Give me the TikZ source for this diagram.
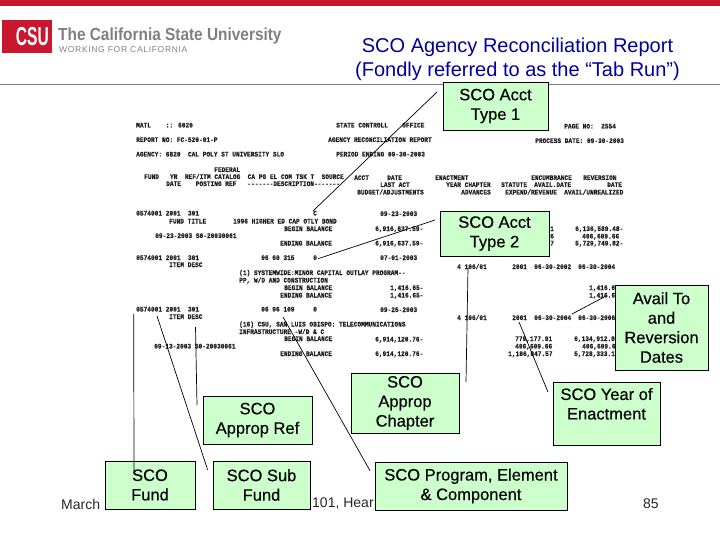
\documentclass[tikz,border=0pt]{standalone}
\usepackage{fontspec}
\setmainfont{Liberation Sans}
\newfontfamily\reportfont{Liberation Mono}[FakeStretch=0.88,FakeBold=0.4]
\newfontfamily\logofont{Liberation Sans}[FakeStretch=0.88]
\newfontfamily\csufont{Liberation Sans}[FakeStretch=0.6]
\newfontfamily\workingfont{Liberation Sans}[LetterSpace=8]
\newfontfamily\calloutfont{Liberation Sans}[FakeBold=0.3]
\definecolor{csured}{HTML}{C8172E}
\definecolor{logogray}{HTML}{7F8083}
\definecolor{titleblue}{HTML}{000099}
\definecolor{calloutgreen}{HTML}{CCFFCC}
\begin{document}
\begin{tikzpicture}[
  x=1pt, y=-1pt,
  report text/.style={anchor=west, inner sep=0pt, text height=4.6pt, text depth=0.6pt, text=black!88,
    font=\reportfont\bfseries\fontsize{7}{7}\selectfont},
  callout box/.style={draw=black, line width=0.8pt, fill=calloutgreen, inner sep=0pt, align=center,
    text=black, font=\calloutfont\fontsize{16.5}{19.5}\selectfont},
  callout line/.style={black, line width=0.7pt},
  footer text/.style={anchor=west, inner sep=0pt, text=black!85, font=\fontsize{14}{14}\selectfont}
]
  \useasboundingbox (0,0) rectangle (720,540);

  % Slide furniture: red band and grey rule
  \fill[csured] (0,0) rectangle (720,5.7);
  \draw[gray, line width=0.8pt] (0,84) -- (720,84);

  % Logo
  \node[fill=csured, minimum width=50pt, minimum height=33pt, inner sep=0pt] (logobox) at (27,36.5) {};
  \node[anchor=east, inner sep=0pt, text=white, font=\csufont\bfseries\fontsize{26}{26}\selectfont] (logocsu) at (49,37) {CSU};
  \node[anchor=base west, inner sep=0pt, text=logogray, font=\logofont\bfseries\fontsize{17.5}{17.5}\selectfont] (logoname) at (58,40.5) {The California State University};
  \node[anchor=base west, inner sep=0pt, text=logogray, font=\workingfont\fontsize{8.5}{8.5}\selectfont] (logoline) at (59,52.5) {WORKING FOR CALIFORNIA};

  % Title
  \node[inner sep=0pt, align=center, text=titleblue, font=\fontsize{20}{24}\selectfont] (title) at (517.5,59)
    {SCO Agency Reconciliation Report\\(Fondly referred to as the “Tab Run”)};

  % Scanned report, left part
  \foreach \x/\y/\txt [count=\i] in {
    136/125.5/{MATL~~~~:: 6020},
    136/140/{REPORT NO: FC-520-01-P},
    136/154.5/{AGENCY: 6820~~CAL POLY ST UNIVERSITY SLO},
    214/170/{FEDERAL},
    144/177/{FUND~~~YR~~REF/ITM CATALOG~~CA PG EL COM TSK T~~SOURCE},
    166/184/{DATE~~~~POSTING REF~~~-------DESCRIPTION-------},
    136/213.5/{0574001 2001~~301},
    313/213.5/{C},
    169/221.5/{FUND TITLE},
    233/221.5/{1996 HIGHER ED CAP OTLY BOND},
    284/229/{BEGIN BALANCE},
    155/236/{09-23-2003 S0-20030061},
    280/243.5/{ENDING BALANCE},
    136/258/{0574001 2001~~301},
    261/258/{06 60 315},
    313/258/{0},
    169/265/{ITEM DESC},
    239/273/{(1) SYSTEMWIDE:MINOR CAPITAL OUTLAY PROGRAM--},
    239/280.5/{PP, W/D AND CONSTRUCTION},
    284/288/{BEGIN BALANCE},
    280/295.5/{ENDING BALANCE},
    136/309.5/{0574001 2001~~301},
    261/309.5/{06 96 109},
    313/309.5/{0},
    169/317/{ITEM DESC},
    239/324.5/{(16) CSU, SAN LUIS OBISPO: TELECOMMUNICATIONS},
    239/332/{INFRASTRUCTURE -W/D \& C},
    284/339/{BEGIN BALANCE},
    154/346.5/{09-13-2003 S0-20030061},
    280/354/{ENDING BALANCE}
  }
    \node[report text] (left\i) at (\x,\y) {\txt};

  % Scanned report, right part
  \foreach \x/\y/\txt [count=\i] in {
    336/125.5/{STATE CONTROLL},
    402/125.5/{OFFICE},
    328/140/{AGENCY RECONCILIATION REPORT},
    336/154.5/{PERIOD ENDING 09-30-2003},
    564/126.5/{PAGE NO:~~2554},
    535/141/{PROCESS DATE: 09-30-2003},
    354/178/{ACCT},
    387/178/{DATE},
    435/178/{ENACTMENT},
    531/178/{ENCUMBRANCE},
    583/178/{REVERSION},
    380/185/{LAST ACT},
    446/185/{YEAR CHAPTER},
    501/185/{STATUTE},
    534/185/{AVAIL.DATE},
    607/185/{DATE},
    357/192.5/{BUDGET/ADJUSTMENTS},
    461/192.5/{ADVANCES},
    505/192.5/{EXPEND/REVENUE},
    564/192.5/{AVAIL/UNREALIZED},
    380/214/{09-23-2003},
    375/229/{6,916,637.59-},
    375/243.5/{6,916,637.59-},
    550/229/{1},
    550/236.5/{6},
    550/243.5/{7},
    575/229/{6,136,589.48-},
    582/236.5/{406,609.66},
    575/243.5/{5,729,749.82-},
    380/258/{07-01-2003},
    457/267/{4 106/01},
    512/267/{2001},
    534/267/{06-30-2002},
    578/267/{06-30-2004},
    390/288/{1,416.65-},
    390/295.5/{1,416.65-},
    589/288/{1,416.6},
    589/295.5/{1,416.6},
    380/310/{09-25-2003},
    457/318/{4 106/01},
    512/318/{2001},
    534/318/{06-30-2004},
    578/318/{06-30-2006},
    375/339.5/{6,914,120.76-},
    375/354/{6,914,120.76-},
    515/339/{779,177.91},
    515/346.5/{406,609.66},
    508/354/{1,186,847.57},
    574/339/{6,134,912.8},
    582/346.5/{406,609.6},
    574/354/{5,728,333.1}
  }
    \node[report text] (right\i) at (\x,\y) {\txt};

  % Footer, partly covered by the callouts
  \node[footer text] (footmarch) at (61,504) {March};
  \node[footer text] (footmid) at (312,504) {101, Hear};
  \node[footer text] (footpage) at (643,504) {85};

  % Callouts
  \node[callout box, minimum width=105pt, minimum height=48pt] (accttype1) at (495.5,106) {SCO Acct\\Type 1};
  \node[callout box, minimum width=109pt, minimum height=45pt] (accttype2) at (494.5,233.5) {SCO Acct\\Type 2};
  \node[callout box, minimum width=93pt, minimum height=85pt] (availto) at (661.5,327.5) {Avail To\\and\\Reversion\\Dates};
  \node[callout box, minimum width=107pt, minimum height=63pt] (yearenact) at (606.5,413.5) {SCO Year of\\Enactment\\~};
  \node[callout box, minimum width=108pt, minimum height=60pt] (chapter) at (405,403) {SCO\\Approp\\Chapter};
  \node[callout box, minimum width=109pt, minimum height=48pt] (appropref) at (257.5,420) {SCO\\Approp Ref};
  \node[callout box, minimum width=90pt, minimum height=48pt] (fund) at (150,485) {SCO\\Fund};
  \node[callout box, minimum width=97pt, minimum height=48pt] (subfund) at (261.5,485) {SCO Sub\\Fund};
  \node[callout box, minimum width=192pt, minimum height=48pt] (program) at (471,486) {SCO Program, Element\\\& Component};

  % Free ends of the callout lines
  \coordinate (accttype1 from) at (437,92);
  \coordinate (accttype1 tip) at (313,211);
  \coordinate (accttype2 from) at (435,220);
  \coordinate (accttype2 tip) at (318,258.7);
  \coordinate (availto from) at (606,296);
  \coordinate (availto tip) at (572,314);
  \coordinate (yearenact from) at (548,392);
  \coordinate (yearenact tip) at (519,322);
  \coordinate (chapter from) at (466,382);
  \coordinate (chapter tip) at (468,268);
  \coordinate (appropref from) at (197,405);
  \coordinate (appropref tip) at (195.5,327);
  \coordinate (fund from) at (134,472);
  \coordinate (fund tip) at (133.7,314);
  \coordinate (subfund from) at (207.7,470);
  \coordinate (subfund tip) at (157,316);
  \coordinate (program from) at (370,470.7);
  \coordinate (program tip) at (283,317);

  \foreach \name in {accttype1, accttype2, availto, yearenact, chapter, appropref, fund, subfund, program}
    \draw[callout line] (\name\space from) -- (\name\space tip);

\end{tikzpicture}
\end{document}
